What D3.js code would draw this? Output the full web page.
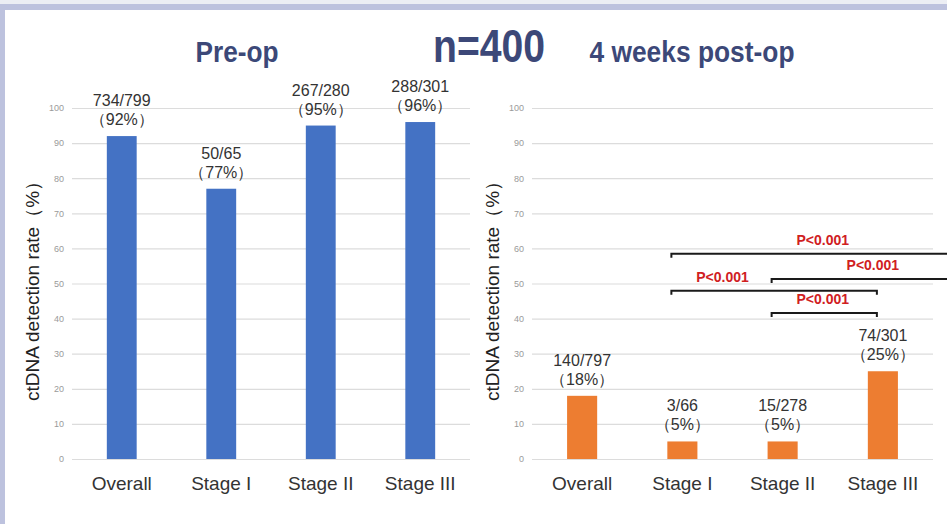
<!DOCTYPE html>
<html>
<head>
<meta charset="utf-8">
<script src="https://cdn.jsdelivr.net/npm/d3@7"></script>
<style>
  html, body { margin: 0; padding: 0; background: #fff; }
  svg { display: block; }
</style>
</head>
<body>
<svg id="chart" width="947" height="524"></svg>
<script>
// Categories shared by both panels
const categories = ["Overall", "Stage I", "Stage II", "Stage III"];

// Pre-operative detection
const preRate = [92, 77, 95, 96];
const preCounts = ["734/799", "50/65", "267/280", "288/301"];

// 4 weeks post-operative detection
const postRate = [18, 5, 5, 25];
const postCounts = ["140/797", "3/66", "15/278", "74/301"];

// Y axis ticks
const yTicks = [0, 10, 20, 30, 40, 50, 60, 70, 80, 90, 100];

// Significance brackets on the post-op panel (category indexes; -1 = open to the right)
const bracketFrom = [1, 2, 1, 2];
const bracketTo = [-1, -1, 3, 3];
const bracketLevel = [58.5, 51.3, 47.9, 41.6];
const bracketLabelAt = [2.4, 2.9, 1.4, 2.4];
const bracketLabel = ["P<0.001", "P<0.001", "P<0.001", "P<0.001"];

// Titles
const titles = ["Pre-op", "n=400", "4 weeks post-op"];

const svg = d3.select("#chart");
const W = 947, H = 524;

// Framing strips
svg.append("rect").attr("x", 0).attr("y", 0).attr("width", W).attr("height", 4).attr("fill", "#eceef4");
svg.append("rect").attr("x", 0).attr("y", 4).attr("width", W).attr("height", 6).attr("fill", "#bdc2de");
svg.append("rect").attr("x", 0).attr("y", 4).attr("width", 5).attr("height", H - 4).attr("fill", "#bdc2de");

const titleColor = "#3c4878";
const sans = "'Liberation Sans', Arial, sans-serif";

// Condensed bold headings
function heading(txt, cx, size, len) {
  svg.append("text").attr("x", cx - len / 2).attr("y", 62)
    .attr("font-family", sans).attr("font-weight", "bold").attr("font-size", size)
    .attr("textLength", len).attr("lengthAdjust", "spacingAndGlyphs")
    .attr("fill", titleColor).text(txt);
}
heading(titles[0], 237, 30, 83);
heading(titles[1], 489, 46, 112);
heading(titles[2], 692, 30, 205);

const y = d3.scaleLinear().domain([0, 100]).range([459, 108]);

function panel(opts) {
  const g = svg.append("g");
  const x = d3.scaleBand().domain(categories).range([opts.x0, opts.x1])
    .paddingInner(0.7).paddingOuter(0.35);

  // Gridlines
  g.append("g").selectAll("line").data(yTicks).join("line")
    .attr("x1", opts.x0).attr("x2", opts.x1)
    .attr("y1", d => y(d) + 0.5).attr("y2", d => y(d) + 0.5)
    .attr("stroke", "#dcdcdc").attr("stroke-width", 1.2);

  // Y axis tick labels
  const yAxis = d3.axisLeft(y).tickValues(yTicks).tickSize(0).tickPadding(0);
  const ya = g.append("g").attr("transform", `translate(${opts.x0 - 8},0)`).call(yAxis);
  ya.select(".domain").remove();
  ya.selectAll("text").attr("font-family", sans).attr("font-size", 9).attr("fill", "#9a9a9a");

  // Y axis title
  g.append("text")
    .attr("transform", `translate(${opts.x0 - 33},${(y(0) + y(100)) / 2 + 3}) rotate(-90)`)
    .attr("text-anchor", "middle").attr("font-family", sans).attr("font-size", 19)
    .attr("fill", "#222").text("ctDNA detection rate（%）");

  // Bars
  g.append("g").selectAll("rect").data(opts.values).join("rect")
    .attr("x", (d, i) => x(categories[i])).attr("width", x.bandwidth())
    .attr("y", d => y(d)).attr("height", d => y(0) - y(d))
    .attr("fill", opts.color);

  // Value labels (count and percentage)
  const lab = g.append("g").selectAll("g").data(opts.values).join("g")
    .attr("transform", (d, i) => `translate(${x(categories[i]) + x.bandwidth() / 2},${y(d)})`);
  lab.append("text").attr("y", -30).attr("text-anchor", "middle")
    .attr("font-family", sans).attr("font-size", 16).attr("fill", "#333")
    .text((d, i) => opts.counts[i]);
  lab.append("text").attr("y", -11).attr("text-anchor", "middle")
    .attr("font-family", sans).attr("font-size", 16).attr("fill", "#333")
    .text(d => `（${d}%）`);

  // Category axis
  const xAxis = d3.axisBottom(x).tickSize(0).tickPadding(0);
  const xa = g.append("g").attr("transform", `translate(0,${y(0) + 31})`).call(xAxis);
  xa.select(".domain").remove();
  xa.selectAll("text").attr("dy", 0).attr("font-family", sans).attr("font-size", 19)
    .attr("fill", "#333");

  return x;
}

panel({ x0: 72, x1: 470, values: preRate, counts: preCounts, color: "#4472c4" });
const xr = panel({ x0: 532, x1: 933, values: postRate, counts: postCounts, color: "#ed7d31" });

// Significance brackets
const centerAt = v => {
  const c0 = xr(categories[0]) + xr.bandwidth() / 2;
  return c0 + v * xr.step();
};
const bg = svg.append("g");
bracketLevel.forEach((lv, i) => {
  const yy = y(lv);
  const xa = centerAt(bracketFrom[i]) - 11;
  const xb = bracketTo[i] < 0 ? W : centerAt(bracketTo[i]) - 6;
  const path = d3.path();
  path.moveTo(xa, yy + 4);
  path.lineTo(xa, yy);
  path.lineTo(xb, yy);
  if (bracketTo[i] >= 0) path.lineTo(xb, yy + 4);
  bg.append("path").attr("d", path.toString()).attr("fill", "none")
    .attr("stroke", "#1a1a1a").attr("stroke-width", 2);
  bg.append("text").attr("x", centerAt(bracketLabelAt[i])).attr("y", yy - 9)
    .attr("text-anchor", "middle").attr("font-family", sans).attr("font-weight", "bold")
    .attr("font-size", 14).attr("fill", "#d0201f").text(bracketLabel[i]);
});
</script>
</body>
</html>
